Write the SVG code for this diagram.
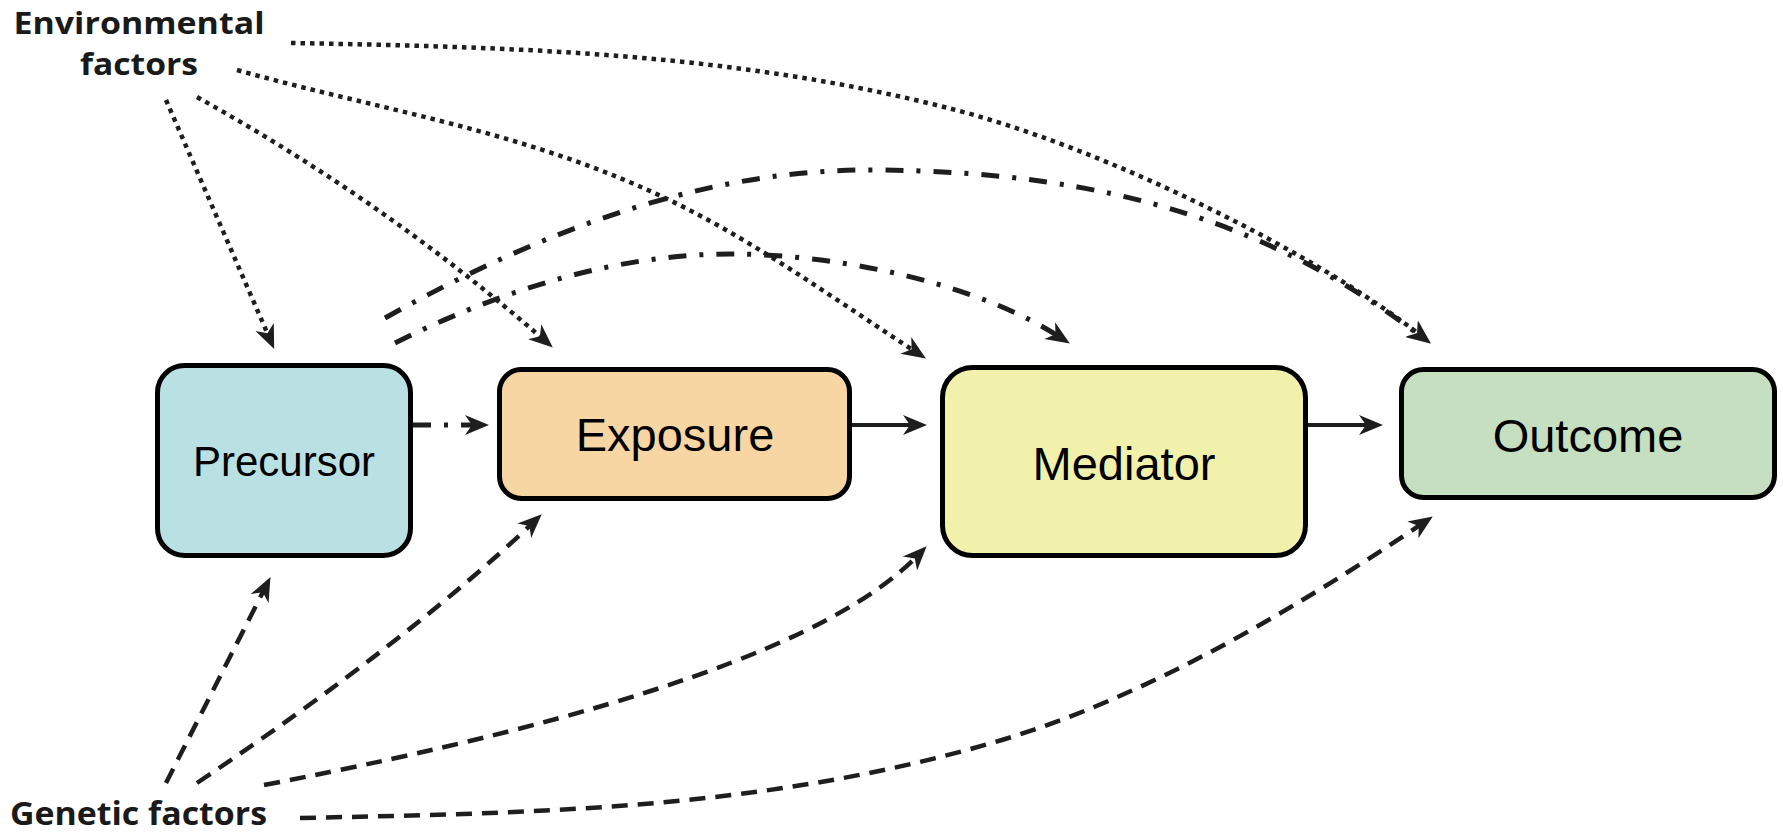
<svg xmlns="http://www.w3.org/2000/svg" width="1783" height="832" viewBox="0 0 1783 832">
<style>
.box{stroke:#000;stroke-width:5}
.lbl{font-family:"Liberation Sans",Arial,sans-serif;fill:#000;text-anchor:middle}
.fac{font-family:"Open Sans","Noto Sans",sans-serif;font-weight:700;fill:#1a1a1a}
.c{fill:none;stroke:#1e1e1e;stroke-width:4.5;marker-end:url(#ah)}
.dot{stroke-dasharray:4.5 5}
.dash{stroke-dasharray:16 10}
.dd{stroke-width:5;stroke-dasharray:18 13 4 13}
.solid{stroke-width:4}
</style>
<defs>
<marker id="ah" viewBox="-13 -11 27 22" refX="0" refY="0" markerWidth="27" markerHeight="22" markerUnits="userSpaceOnUse" orient="auto">
<path d="M13,0 L-11,-10 L-4,0 L-11,10 Z" fill="#1e1e1e"/>
</marker>
</defs>
<g id="connectors">
<path class="c dot" d="M166,100 L269,337"/>
<path class="c dot" d="M197,97 Q387,203 543,339"/>
<path class="c dot" d="M237,70 C379,110 521,130 663,197 C750,238 830,296 915,351.5"/>
<path class="c dot" d="M291,43 C509,47 726,52 944,107 C1106,147 1322,257 1420.6,335.5"/>
<path class="c dd" d="M385,318 C546,228 707,170 868,170 C1118,170 1280,230 1420.4,335.8"/>
<path class="c dd" d="M395,343 C505,288 620,254 730,254 C843,254 979,285 1058.9,336.5"/>
<path class="c dd" d="M413,425 L476,425"/>
<path class="c solid" d="M852,425 L914,425"/>
<path class="c solid" d="M1308,425 L1370,425"/>
<path class="c dash" d="M166,783 L264.6,588.7"/>
<path class="c dash" d="M197,783 Q407,642 532.3,523.3"/>
<path class="c dash" d="M264,785 Q793,684 917.6,555.6"/>
<path class="c dash" d="M300,818 C534,813 768,810 1002,740 C1145,697 1289,613 1422,523.7"/>
</g>
<g id="env">
<text class="fac" x="139" y="34" font-size="30" text-anchor="middle" textLength="251" lengthAdjust="spacingAndGlyphs">Environmental</text>
<text class="fac" x="139" y="75" font-size="30" text-anchor="middle" textLength="118" lengthAdjust="spacingAndGlyphs">factors</text>
</g>
<g id="gen">
<text class="fac" x="10" y="825" font-size="33" textLength="257" lengthAdjust="spacingAndGlyphs">Genetic factors</text>
</g>
<g id="precursor">
<rect class="box" x="157.5" y="365.5" width="253" height="190" rx="27" fill="#b9e0e3"/>
<text class="lbl" x="284" y="476" font-size="42">Precursor</text>
</g>
<g id="exposure">
<rect class="box" x="499.5" y="369.5" width="350" height="129" rx="22" fill="#f7d6a4"/>
<text class="lbl" x="675" y="451" font-size="47">Exposure</text>
</g>
<g id="mediator">
<rect class="box" x="942.5" y="367.5" width="363" height="188" rx="30" fill="#f2f1ac"/>
<text class="lbl" x="1124" y="480" font-size="47">Mediator</text>
</g>
<g id="outcome">
<rect class="box" x="1401.5" y="369.5" width="373" height="128" rx="22" fill="#c6dfc0"/>
<text class="lbl" x="1588" y="452" font-size="47">Outcome</text>
</g>
</svg>
